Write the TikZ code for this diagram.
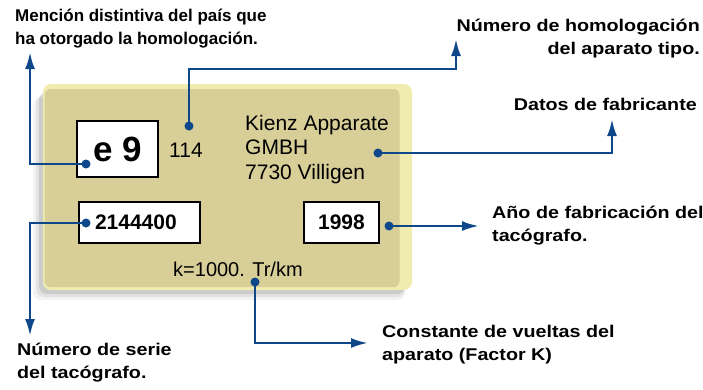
\documentclass[tikz,border=0pt]{standalone}
\usepackage{fontspec}
\setmainfont{Liberation Sans}
\newfontfamily\widesans{Liberation Sans}[FakeStretch=1.16]
\usetikzlibrary{arrows.meta,positioning}
\definecolor{leader}{RGB}{14,72,138}
\definecolor{platefill}{RGB}{215,206,152}
\definecolor{plateglow}{RGB}{240,236,176}
\tikzset{basic/.style={draw,line width=1.6pt,fill=white,
                       inner sep=0pt,minimum height=41pt}}
\tikzset{numbox/.style={basic,rectangle,font=\bfseries\fontsize{21}{21}\selectfont}}
\tikzset{dot/.style={circle,fill=leader,inner sep=0pt,minimum size=9pt}}
\tikzset{leader/.style={draw=leader,line width=2.6pt,
                        -{Latex[length=17pt,width=10pt]}}}
\tikzset{callout/.style={inner sep=0pt,font=\bfseries\fontsize{17}{23}\selectfont}}
\tikzset{widecallout/.style={callout,font=\widesans\bfseries\fontsize{17}{23}\selectfont}}
\tikzset{platetext/.style={inner sep=0pt,font=\fontsize{21}{24.5}\selectfont}}

\begin{document}
\begin{tikzpicture}[x=1pt,y=-1pt]
    \useasboundingbox (0,0) rectangle (703,389);
    % Draw plate with its shadow
    \foreach \s/\o in {10/0.08,7/0.12,4/0.18}{%
          \fill[black!60,opacity=\o,rounded corners=8pt]
               (43-\s,88+\s) rectangle (405,290+\s);
        }
    \fill[plateglow,rounded corners=8pt] (43,84) rectangle (412,290);
    \node[fill=platefill,rounded corners=6pt,minimum width=355pt,
          minimum height=198pt,inner sep=0pt] (plate) at (222,188) {};
    % Boxes on the plate
    \node[numbox,minimum width=81pt,minimum height=56pt,
          font=\bfseries\fontsize{35}{35}\selectfont] (country) at (117.5,149) {e 9};
    \node[numbox,text width=89pt,inner xsep=16pt,align=left] (serial)
          at (139.5,222.5) {2144400};
    \node[numbox,minimum width=75pt] (year) at (341.5,222.5) {1998};
    % Texts on the plate
    \node[platetext,anchor=west] (approval) at (169,150) {114};
    \node[platetext,anchor=north west,align=left] (maker) at (245,115)
          {Kienz Apparate\\GMBH\\7730 Villigen};
    \node[platetext,font=\fontsize{20}{20}\selectfont,anchor=west] (kfactor)
          at (173,269) {k=1000. Tr/km};
    % Dots
    \node[dot] (d1) at (86,164) {};
    \node[dot] (d2) at (189,126) {};
    \node[dot] (d3) at (378,153) {};
    \node[dot] (d4) at (86,223) {};
    \node[dot] (d5) at (389,226) {};
    \node[dot] (d6) at (255,282) {};
    % Callout texts
    \node[callout,anchor=north west,align=left] (t1) at (15,9)
          {Mención distintiva del país que\\ha otorgado la homologación.};
    \node[widecallout,anchor=north east,align=right] (t2) at (700,19)
          {Número de homologación\\del aparato tipo.};
    \node[widecallout,anchor=east] (t3) at (697,104) {Datos de fabricante};
    \node[widecallout,anchor=north west,align=left] (t4) at (492,206)
          {Año de fabricación del\\tacógrafo.};
    \node[widecallout,anchor=north west,align=left] (t5) at (17,343)
          {Número de serie\\del tacógrafo.};
    \node[widecallout,anchor=north west,align=left] (t6) at (382,325)
          {Constante de vueltas del\\aparato (Factor K)};
    % Leader lines
    \coordinate (e1) at (30,52);
    \coordinate (e2) at (456,39);
    \coordinate (e3) at (612,119);
    \coordinate (e4) at (479,226);
    \coordinate (e5) at (30,336);
    \coordinate (e6) at (368,343);
    \draw[leader] (d1.center) -| (e1);
    \draw[leader] (d2.center) |- (456,69) -- (e2);
    \draw[leader] (d3.center) -| (e3);
    \draw[leader] (d5.center) -- (e4);
    \draw[leader] (d4.center) -| (e5);
    \draw[leader] (d6.center) |- (e6);
\end{tikzpicture}
\end{document}
